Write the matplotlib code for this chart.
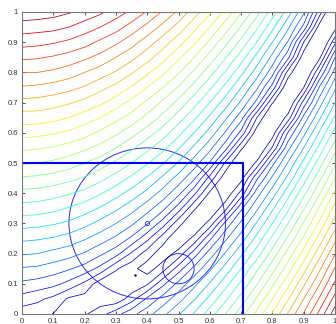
import numpy as np
import matplotlib
matplotlib.use("Agg")
import matplotlib.pyplot as plt
import matplotlib.ticker as ticker
from matplotlib.patches import Circle

# grid nodes every 0.05; contour number at each node
grid_x = [0.0, 0.05, 0.1, 0.15, 0.2, 0.25, 0.3, 0.35, 0.4, 0.45, 0.5,
          0.55, 0.6, 0.65, 0.7, 0.75, 0.8, 0.85, 0.9, 0.95, 1.0]
grid_y = list(grid_x)
# one row per y value (bottom to top), left to right in x
level_grid = [
    [0.4, 0.33, -0.03, -0.23, -0.13, 0.58, 1.62, 2.7, 3.6, 4.7, 5.9, 7.1, 8.5, 10.0, 11.6, 13.3, 15.1, 17.1, 19.1, 21.3, 23.6],
    [1.6, 1.22, 0.73, -0.17, -0.41, -0.59, -0.75, 0.55, 2.2, 3.4, 4.6, 5.9, 7.3, 8.8, 10.4, 12.1, 14.0, 15.9, 18.0, 20.1, 22.4],
    [2.8, 2.6, 2.3, 1.69, 0.77, -0.59, -0.75, -0.9, -0.15, 1.75, 3.3, 4.7, 6.1, 7.6, 9.2, 10.9, 12.8, 14.7, 16.8, 18.9, 21.2],
    [3.9, 3.8, 3.5, 3.1, 2.6, 1.69, 0.12, -0.7, -1.5, -0.44, 1.5, 3.3, 4.8, 6.4, 8.0, 9.8, 11.6, 13.5, 15.6, 17.8, 20.1],
    [5.1, 5.0, 4.7, 4.4, 3.9, 3.2, 2.4, 0.85, -0.51, -1.6, -0.64, 1.5, 3.5, 5.1, 6.8, 8.5, 10.4, 12.4, 14.4, 16.6, 18.9],
    [6.2, 6.1, 5.9, 5.6, 5.1, 4.5, 3.8, 2.8, 1.29, -0.55, -1.89, -0.71, 1.79, 3.8, 5.5, 7.3, 9.2, 11.2, 13.2, 15.4, 17.7],
    [7.4, 7.3, 7.1, 6.8, 6.3, 5.7, 5.0, 4.2, 3.1, 1.5, -0.64, -2.06, -0.62, 2.3, 4.2, 6.1, 8.0, 10.0, 12.1, 14.2, 16.5],
    [8.6, 8.5, 8.3, 7.9, 7.5, 6.9, 6.2, 5.4, 4.4, 3.3, 1.5, -0.85, -2.05, -0.34, 2.8, 4.8, 6.8, 8.8, 10.9, 13.1, 15.4],
    [9.7, 9.6, 9.4, 9.1, 8.7, 8.1, 7.4, 6.6, 5.7, 4.6, 3.3, 1.25, -1.19, -1.83, 0.33, 3.5, 5.5, 7.6, 9.7, 11.9, 14.2],
    [10.9, 10.8, 10.6, 10.3, 9.9, 9.3, 8.6, 7.8, 6.9, 5.8, 4.6, 3.2, 0.63, -1.68, -1.42, 1.8, 4.2, 6.3, 8.5, 10.7, 13.0],
    [12.1, 12.0, 11.8, 11.5, 11.0, 10.5, 9.8, 9.0, 8.1, 7.1, 5.9, 4.5, 2.9, -0.19, -2.36, -0.79, 2.7, 5.1, 7.3, 9.5, 11.8],
    [13.2, 13.1, 12.9, 12.6, 12.2, 11.7, 11.0, 10.2, 9.3, 8.3, 7.1, 5.8, 4.3, 2.4, -0.8, -2.4, 0.12, 3.7, 6.0, 8.3, 10.6],
    [14.4, 14.3, 14.1, 13.8, 13.4, 12.8, 12.2, 11.4, 10.5, 9.5, 8.3, 7.0, 5.6, 3.9, 1.7, -1.6, -1.6, 2.1, 4.7, 7.1, 9.4],
    [15.5, 15.5, 15.3, 15.0, 14.5, 14.0, 13.3, 12.6, 11.7, 10.7, 9.5, 8.2, 6.8, 5.2, 3.4, 0.02, -2.58, -0.57, 3.3, 5.8, 8.2],
    [16.7, 16.6, 16.4, 16.1, 15.7, 15.2, 14.5, 13.7, 12.8, 11.8, 10.7, 9.4, 8.0, 6.5, 4.8, 2.7, -0.94, -2.23, 1.41, 4.5, 7.0],
    [17.9, 17.8, 17.6, 17.3, 16.9, 16.3, 15.7, 14.9, 14.0, 13.0, 11.9, 10.6, 9.2, 7.7, 6.0, 4.2, 1.6, -2.07, -1.02, 3.1, 5.8],
    [19.0, 19.0, 18.8, 18.5, 18.0, 17.5, 16.9, 16.1, 15.2, 14.2, 13.1, 11.8, 10.4, 8.9, 7.3, 5.5, 3.4, -0.4, -2.71, 0.96, 4.5],
    [20.2, 20.1, 19.9, 19.6, 19.2, 18.7, 18.0, 17.3, 16.4, 15.4, 14.2, 13.0, 11.6, 10.1, 8.5, 6.7, 4.7, 2.3, -1.7, -1.3, 3.0],
    [21.4, 21.3, 21.1, 20.8, 20.4, 19.8, 19.2, 18.4, 17.5, 16.5, 15.4, 14.2, 12.8, 11.3, 9.7, 8.0, 6.0, 3.9, -0.01, -3.0, 0.75],
    [22.5, 22.4, 22.3, 22.0, 21.5, 21.0, 20.4, 19.6, 18.7, 17.7, 16.6, 15.3, 14.0, 12.5, 10.9, 9.2, 7.3, 5.2, 2.7, -1.47, -1.39],
    [23.7, 23.6, 23.4, 23.1, 22.7, 22.2, 21.5, 20.8, 19.9, 18.9, 17.8, 16.5, 15.2, 13.7, 12.1, 10.4, 8.5, 6.5, 4.2, 0.56, -3.09],
]
contour_levels = list(range(-1, 24))

# feasible box edge and the two circles
box_x = [0.0, 0.707, 0.707]
box_y = [0.5, 0.5, 0.0]
big_circle = (0.4, 0.3, 0.25)    # center x, center y, radius
small_circle = (0.5, 0.15, 0.05)
ring_point = (0.4, 0.3)
dot_point = (0.36, 0.128)

tick_vals = [0, 0.1, 0.2, 0.3, 0.4, 0.5, 0.6, 0.7, 0.8, 0.9, 1]

plt.rcParams['font.family'] = ['Liberation Sans', 'DejaVu Sans']

fig = plt.figure(figsize=(3.36, 3.24), dpi=100)
ax = fig.add_axes([22 / 336, 10 / 324, 313 / 336, 302 / 324])

Z = np.array(level_grid)
ax.contour(grid_x, grid_y, Z, levels=contour_levels, cmap='jet',
           vmin=-1.8, vmax=Z.max(), linewidths=0.55)

ax.plot(box_x, box_y, color='#0000ff', lw=1.5, solid_joinstyle='miter')
for cx, cy, r in (big_circle, small_circle):
    ax.add_patch(Circle((cx, cy), r, fill=False, ec='#2a2aff', lw=0.7))
ax.plot([ring_point[0]], [ring_point[1]], 'o', mfc='none', mec='#2a2aff',
        ms=3, mew=0.6)
ax.plot([dot_point[0]], [dot_point[1]], '.', color='#000066', ms=1.5)

ax.set_xlim(0, 1)
ax.set_ylim(0, 1)
ax.set_xticks(tick_vals)
ax.set_yticks(tick_vals)
fmt = ticker.FormatStrFormatter('%g')
ax.xaxis.set_major_formatter(fmt)
ax.yaxis.set_major_formatter(fmt)
ax.tick_params(direction='in', length=2.5, width=0.6, labelsize=5.5,
               pad=3, colors='#333333', top=True, right=True)
for sp in ax.spines.values():
    sp.set_color('#777777')
    sp.set_linewidth(0.8)

fig.savefig('out.png', dpi=100)
